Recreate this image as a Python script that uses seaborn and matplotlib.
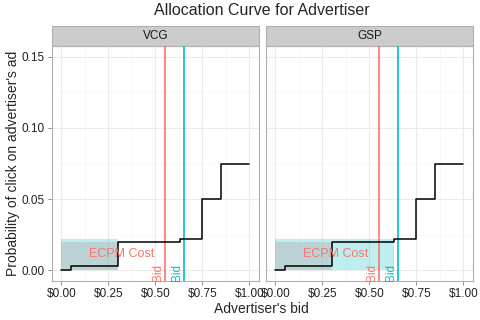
import numpy as np
import pandas as pd
import matplotlib
matplotlib.use("Agg")
import matplotlib.pyplot as plt
from matplotlib.patches import Rectangle
from matplotlib.ticker import FuncFormatter, MultipleLocator
import seaborn as sns

# allocation curve (step, post)
bids = [0.0, 0.05, 0.30, 0.63, 0.75, 0.85, 1.00]
click_prob = [0.0, 0.003, 0.020, 0.022, 0.050, 0.075, 0.075]
auctions = ["VCG", "GSP"]

# shaded areas per auction
pay_width = {"VCG": 0.30, "GSP": 0.63}
pay_height = 0.022
cost_width = 0.30
cost_height = 0.020

bid_line = 0.55
value_line = 0.65

RED = "#F8766D"
TEAL = "#00BFC4"

sns.set_theme(style="whitegrid")
plt.rcParams["font.family"] = ["Liberation Sans", "DejaVu Sans"]

df = pd.DataFrame({
    "bid": bids * len(auctions),
    "prob": click_prob * len(auctions),
    "auction": np.repeat(auctions, len(bids)),
})

g = sns.FacetGrid(df, col="auction", col_order=auctions, sharey=True, despine=False)
g.map_dataframe(sns.lineplot, x="bid", y="prob", color="black", linewidth=1.1,
                drawstyle="steps-post", zorder=5)
g.fig.set_size_inches(4.8, 3.2)
g.fig.subplots_adjust(left=0.108, right=0.985, bottom=0.122, top=0.856, wspace=0.034)

for ax, name in zip(g.axes.flat, auctions):
    ax.set_facecolor("white")
    ax.add_patch(Rectangle((0, 0), pay_width[name], pay_height, facecolor=TEAL,
                           alpha=0.25, edgecolor="none", zorder=1))
    ax.add_patch(Rectangle((0, 0), cost_width, cost_height, facecolor="#B9B9B9",
                           alpha=0.5, edgecolor="none", zorder=2))
    ax.axvline(bid_line, color=RED, linewidth=1.2, zorder=4)
    ax.axvline(value_line, color=TEAL, linewidth=1.2, zorder=4)
    ax.text(bid_line - 0.004, -0.0072, "Bid", rotation=90, color=RED, fontsize=8.5,
            ha="right", va="bottom", zorder=6)
    ax.text(value_line - 0.004, -0.0072, "Bid", rotation=90, color=TEAL, fontsize=8.5,
            ha="right", va="bottom", zorder=6)
    ax.text(0.32, 0.0112, "ECPM Cost", color=RED, fontsize=9, ha="center",
            va="center", zorder=6)

    ax.set_xlim(-0.05, 1.05)
    ax.set_ylim(-0.0075, 0.1575)
    ax.xaxis.set_major_locator(MultipleLocator(0.25))
    ax.xaxis.set_minor_locator(MultipleLocator(0.125))
    ax.yaxis.set_major_locator(MultipleLocator(0.05))
    ax.yaxis.set_minor_locator(MultipleLocator(0.025))
    ax.xaxis.set_major_formatter(FuncFormatter(lambda v, p: f"${v:.2f}"))
    ax.yaxis.set_major_formatter(FuncFormatter(lambda v, p: f"{v:.2f}"))
    ax.grid(which="major", color="#EBEBEB", linewidth=0.8)
    ax.grid(which="minor", color="#F5F5F5", linewidth=0.5)
    ax.tick_params(which="major", length=3, width=0.6, color="#7f7f7f",
                   labelsize=8.5, labelcolor="#222222", pad=2, bottom=True, left=True)
    ax.tick_params(which="minor", length=0)
    for s in ax.spines.values():
        s.set_color("#b0b0b0")
        s.set_linewidth(0.8)
    ax.set_title("")
    ax.set_xlabel("")
    ax.set_ylabel("")
    # facet strip
    strip_h = 20 / 235
    ax.add_patch(Rectangle((0, 1), 1, strip_h, transform=ax.transAxes, clip_on=False,
                           facecolor="#CCCCCC", edgecolor="#b0b0b0", linewidth=0.8))
    ax.text(0.5, 1 + strip_h / 2, name, transform=ax.transAxes, ha="center",
            va="center", fontsize=8.5, color="#1a1a1a")

g.axes.flat[1].tick_params(axis="y", labelleft=False, left=False)

g.fig.suptitle("Allocation Curve for Advertiser", x=0.545, y=0.99, fontsize=11.5, va="top")
g.fig.text(0.545, 0.012, "Advertiser's bid", ha="center", va="bottom", fontsize=10)
g.fig.text(0.012, 0.49, "Probability of click on advertiser's ad", rotation=90,
           ha="left", va="center", fontsize=10)

g.fig.savefig("out.png", dpi=100)
